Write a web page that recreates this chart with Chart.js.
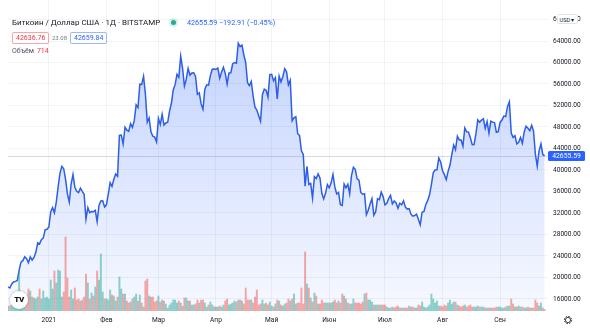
<!DOCTYPE html>
<html lang="ru">
<head>
<meta charset="utf-8">
<title>BTCUSD · BITSTAMP</title>
<script src="https://cdn.jsdelivr.net/npm/chart.js@4.4.1/dist/chart.umd.min.js"></script>
<style>
  html, body { margin: 0; padding: 0; background: #fff; }
  #wrap { position: relative; width: 590px; height: 335px; overflow: hidden; font-family: Roboto, "Noto Sans", sans-serif; color: #131722; }
  #chart { position: absolute; left: 0; top: 0; }
  .abs { position: absolute; white-space: nowrap; }
  #title { left: 12px; top: 16.5px; font-size: 8px; line-height: 11px; }
  #dot { left: 170.5px; top: 20px; width: 5px; height: 5px; border-radius: 50%; background: #22ab94; box-shadow: 0 0 0 2px rgba(34,171,148,0.18); }
  #quote { left: 187px; top: 17px; font-size: 7.2px; line-height: 11px; color: #2962ff; }
  .box { top: 31.5px; height: 10px; line-height: 10px; padding: 0 3px; font-size: 7px; border: 1px solid; border-radius: 2px; background: #fff; }
  #bid { left: 12px; color: #f23645; border-color: rgba(242,54,69,0.45); }
  #spread { left: 52px; top: 32px; font-size: 6px; line-height: 11px; color: #787b86; }
  #ask { left: 70px; color: #2962ff; border-color: rgba(41,98,255,0.45); }
  #vol { left: 12px; top: 46px; font-size: 7px; line-height: 10px; color: #50535e; }
  #vol span { color: #f23645; margin-left: 3px; }
  #usd { left: 556.5px; top: 14px; width: 21px; height: 10px; line-height: 10px; font-size: 5.5px; text-align: center; background: #fff; border: 1px solid #e0e3eb; border-radius: 2px; box-sizing: border-box; }
  #tv { left: 10px; top: 291px; width: 18px; height: 18px; border-radius: 50%; background: #fff; box-shadow: 0 0 3px rgba(0,0,0,0.3); font-weight: 900; font-size: 8px; line-height: 18px; text-align: center; letter-spacing: -0.5px; }
  #gear { left: 563px; top: 315px; }
</style>
</head>
<body>
<div id="wrap">
  <canvas id="chart" width="590" height="335"></canvas>
  <div class="abs" id="title">Биткоин / Доллар США · 1Д · BITSTAMP</div>
  <div class="abs" id="dot"></div>
  <div class="abs" id="quote"></div>
  <div class="abs box" id="bid"></div>
  <div class="abs" id="spread"></div>
  <div class="abs box" id="ask"></div>
  <div class="abs" id="vol">Объём<span id="volLast"></span></div>
  <div class="abs" id="usd">USD ▾</div>
  <div class="abs" id="tv">TV</div>
  <svg class="abs" id="gear" width="10" height="10" viewBox="0 0 10 10">
    <circle cx="5" cy="5" r="3.6" fill="none" stroke="#131722" stroke-width="0.9" stroke-dasharray="1.6 1.2"/>
    <circle cx="5" cy="5" r="2.6" fill="none" stroke="#131722" stroke-width="0.8"/>
  </svg>
</div>
<script>
// BTC/USD daily closes, Bitstamp, from 10 Dec 2020
const startDate = Date.UTC(2020, 11, 10);
const closes = [
  // Dec 2020
  18250, 18040, 18800, 19170, 19270, 19440, 21370, 22850, 23130, 23850, 23480, 22750, 23830, 23250, 23720, 24690, 26440, 26250, 27040, 27370, 28860, 28970,
  // Jan 2021
  29390, 32200, 33000, 32030, 34030, 36860, 39430, 40670, 40240, 38240, 35550, 34010, 37390, 39150, 36770, 36030, 35800, 36630, 36020, 35470, 30850, 33010, 32080, 32260, 32250, 32500, 30410, 33400, 34250, 34260, 33110,
  // Feb
  33520, 35510, 37650, 36950, 38290, 39240, 38820, 46430, 46500, 44840, 47970, 47400, 47180, 48620, 47940, 49170, 52120, 51600, 55960, 55910, 57410, 54090, 48900, 49680, 47070, 46290, 46120, 45240,
  // Mar
  49600, 48440, 50370, 48370, 48750, 48880, 50970, 52410, 54930, 55880, 57800, 57230, 61180, 58970, 55600, 56900, 58910, 57660, 58060, 58100, 57400, 54090, 54340, 52300, 51310, 55050, 55860, 55790, 57600, 58760, 58800,
  // Apr
  58740, 58970, 57060, 58200, 59120, 57990, 56000, 58050, 58100, 59770, 60000, 59860, 63580, 62960, 63220, 61400, 60030, 56230, 55700, 56480, 53800, 51700, 51150, 50100, 49080, 54020, 55040, 54850, 53570, 57730,
  // May
  57800, 56580, 57170, 53230, 57470, 56400, 57350, 58850, 58260, 55840, 56700, 49150, 49700, 49900, 46750, 46430, 43560, 42900, 37000, 40700, 37300, 37500, 34760, 38740, 38400, 39290, 38530, 35680, 34620, 35660, 37300,
  // Jun
  36690, 37570, 39190, 36860, 35530, 35810, 33560, 33400, 37400, 36690, 37340, 35550, 39020, 40520, 40140, 38350, 38100, 35820, 35490, 35600, 31680, 32510, 33680, 34660, 31590, 32230, 34680, 34500, 35870, 35050,
  // Jul
  33520, 33810, 34670, 35300, 33700, 34220, 33860, 32870, 33810, 33520, 34260, 33090, 32730, 32820, 31780, 31410, 31520, 31780, 30820, 29790, 32140, 32290, 33590, 34290, 35380, 37280, 39470, 40020, 40030, 42220, 41490,
  // Aug
  39860, 39140, 38200, 39740, 40880, 42840, 44620, 43800, 46290, 45600, 45590, 44430, 47830, 47100, 47050, 45960, 44700, 44750, 46760, 49340, 48880, 49290, 49520, 47720, 49000, 46850, 49070, 48900, 48820, 47020, 47140,
  // Sep
  48850, 49290, 50030, 49940, 51780, 52700, 46880, 46070, 46380, 44850, 45150, 46060, 44960, 47120, 48140, 47760, 47300, 48300, 47260, 42960, 40720, 43560, 44880, 42848.50, 42655.59
];

// daily volume, BTC
const volumes = [
  2500, 2500, 3000, 3000, 3500, 4500, 19500, 8000, 7000, 6000,
  6500, 11000, 10000, 7000, 6500, 6000, 7000, 11000, 6000, 10000,
  6500, 7000, 6000, 15500, 11000, 20000, 14000, 20500, 20000, 7000,
  9500, 37000, 16500, 7000, 10500, 6000, 11500, 5500, 6000, 5000,
  5500, 7000, 18500, 14000, 6000, 9000, 7500, 12000, 20000, 15500,
  28500, 9500, 6000, 6000, 5500, 10500, 8000, 7500, 5000, 7000,
  17000, 11000, 8500, 8500, 5000, 4000, 4500, 6000, 7000, 8500,
  5000, 8000, 4000, 2000, 15000, 16000, 7500, 7000, 7000, 4500,
  5000, 7500, 4500, 5500, 5000, 3500, 1500, 3000, 4000, 5500,
  5500, 4000, 5000, 4000, 2500, 6500, 6500, 5000, 5000, 3000,
  3000, 3500, 5500, 4000, 5500, 5500, 4000, 2000, 3000, 4500,
  3000, 2000, 2000, 2000, 2500, 2000, 3000, 5000, 6000, 3000,
  3500, 4000, 5000, 4500, 5500, 5500, 5000, 3500, 11500, 5500,
  5500, 5500, 4000, 7000, 10500, 3000, 3500, 5500, 3500, 4000,
  3000, 4500, 2500, 2000, 3500, 5500, 5000, 3000, 2500, 3500,
  4000, 6000, 5000, 6000, 8500, 3500, 4000, 4000, 11500, 3500,
  29500, 13500, 11500, 6500, 4500, 9000, 7500, 3500, 3500, 5500,
  4000, 4000, 4000, 4000, 4000, 4500, 5500, 4000, 5000, 4000,
  8500, 7500, 6000, 4000, 3500, 3500, 6000, 4000, 4000, 4000,
  3500, 4500, 8500, 9000, 5500, 5500, 4500, 3000, 3000, 3000,
  3000, 3000, 3000, 3000, 2000, 1500, 1500, 2000, 1500, 2000,
  2500, 1500, 1500, 1500, 1500, 1500, 2500, 2000, 2000, 1500,
  1500, 3000, 2500, 4500, 2000, 1500, 2000, 3000, 8500, 6000,
  4000, 5000, 2500, 2500, 2000, 3000, 2500, 4000, 5500, 3500,
  4500, 4500, 3000, 2500, 2000, 2500, 3000, 2000, 2500, 3000,
  2000, 2000, 2000, 2500, 2000, 2000, 2000, 1500, 1500, 1500,
  1500, 1500, 1500, 2000, 2000, 2000, 1500, 1500, 2000, 2500,
  2500, 6000, 3500, 2000, 2000, 2500, 2000, 2000, 1500, 1500,
  2000, 1500, 1500, 1500, 5500, 4000, 2500, 4000, 1500, 714
];

const monthLabels = ['2021', 'Фев', 'Мар', 'Апр', 'Май', 'Июн', 'Июл', 'Авг', 'Сен'];
const priceTicks = [16000, 20000, 24000, 28000, 32000, 36000, 40000, 44000, 48000, 52000, 56000, 60000, 64000, 68000];

const bid = 42636.76;
const ask = 42659.84;

const last = closes.length - 1;
const change = closes[last] - closes[last - 1];
const minus = v => (v < 0 ? '\u2212' : '+') + Math.abs(v).toFixed(2);

document.getElementById('quote').textContent =
  closes[last].toFixed(2) + '  ' + minus(change) + ' (' + minus(change / closes[last - 1] * 100) + '%)';
document.getElementById('bid').textContent = bid.toFixed(2);
document.getElementById('spread').textContent = (ask - bid).toFixed(2);
document.getElementById('ask').textContent = ask.toFixed(2);
document.getElementById('volLast').textContent = volumes[last];

// first day of each month gets an axis label
const monthTicks = closes
  .map((_, i) => new Date(startDate + i * 864e5).getUTCDate() === 1 ? i : -1)
  .filter(i => i >= 0);

const volColors = closes.map((c, i) =>
  i > 0 && c < closes[i - 1] ? 'rgba(239,83,80,0.5)' : 'rgba(38,166,154,0.5)');

const lastPricePlugin = {
  id: 'lastPrice',
  afterDatasetsDraw(chart) {
    const { ctx, chartArea: a, scales: { y } } = chart;
    const py = Math.round(y.getPixelForValue(closes[last])) + 0.5;
    ctx.save();
    ctx.strokeStyle = 'rgba(120,123,134,0.28)';
    ctx.lineWidth = 1;
    ctx.beginPath();
    ctx.moveTo(a.left, py);
    ctx.lineTo(a.right, py);
    ctx.stroke();
    ctx.restore();
  },
  afterDraw(chart) {
    const { ctx, chartArea: a, scales: { y } } = chart;
    const py = Math.round(y.getPixelForValue(closes[last]));
    ctx.save();
    ctx.fillStyle = '#2962ff';
    ctx.beginPath();
    ctx.roundRect(a.right, py - 5, 37, 10, 1.5);
    ctx.fill();
    ctx.fillStyle = '#fff';
    ctx.font = '6.8px Roboto';
    ctx.textAlign = 'center';
    ctx.textBaseline = 'middle';
    ctx.fillText(closes[last].toFixed(2), a.right + 18.5, py + 0.5);
    ctx.restore();
  }
};

const gridColor = 'rgba(42,46,57,0.06)';
const tickFont = { family: 'Roboto', size: 6.6 };

new Chart(document.getElementById('chart'), {
  data: {
    datasets: [
      {
        type: 'bar',
        data: volumes.map((v, i) => ({ x: i, y: v })),
        yAxisID: 'vol',
        backgroundColor: volColors,
        barThickness: 1.3,
        order: 0
      },
      {
        type: 'line',
        data: closes.map((c, i) => ({ x: i, y: c })),
        yAxisID: 'y',
        borderColor: '#2d5ee6',
        borderWidth: 1.5,
        pointRadius: 0,
        tension: 0,
        fill: 'start',
        backgroundColor: (c) => {
          const a = c.chart.chartArea;
          if (!a) return 'rgba(41,98,255,0.12)';
          const g = c.chart.ctx.createLinearGradient(0, a.top + 40, 0, a.bottom);
          g.addColorStop(0, 'rgba(41,98,255,0.28)');
          g.addColorStop(1, 'rgba(41,98,255,0.04)');
          return g;
        },
        order: 1
      }
    ]
  },
  options: {
    responsive: false,
    animation: false,
    devicePixelRatio: 1,
    layout: { padding: { left: 8, right: 0, top: 0, bottom: 0 } },
    plugins: { legend: { display: false }, tooltip: { enabled: false } },
    scales: {
      x: {
        type: 'linear',
        offset: false,
        min: 0,
        max: 290.8,
        afterBuildTicks: (s) => { s.ticks = monthTicks.map(v => ({ value: v })); },
        afterFit: (s) => { s.height = 24; s.paddingLeft = 0; s.paddingRight = 0; },
        ticks: {
          callback: (v) => monthLabels[monthTicks.indexOf(v)],
          font: tickFont,
          color: '#131722',
          maxRotation: 0,
          autoSkip: false,
          padding: 5
        },
        grid: { color: gridColor, drawTicks: false, offset: false },
        border: { display: false }
      },
      y: {
        position: 'right',
        min: 13767,
        max: 71628,
        afterBuildTicks: (s) => { s.ticks = priceTicks.map(v => ({ value: v })); },
        afterFit: (s) => { s.width = 42; s.paddingTop = 0; s.paddingBottom = 0; },
        ticks: {
          callback: (v) => v.toFixed(2),
          font: tickFont,
          color: '#131722',
          crossAlign: 'near',
          padding: 5
        },
        grid: { color: gridColor, drawTicks: false },
        border: { display: false }
      },
      vol: { display: false, min: 0, max: 155500 }
    }
  },
  plugins: [lastPricePlugin]
});
</script>
</body>
</html>
